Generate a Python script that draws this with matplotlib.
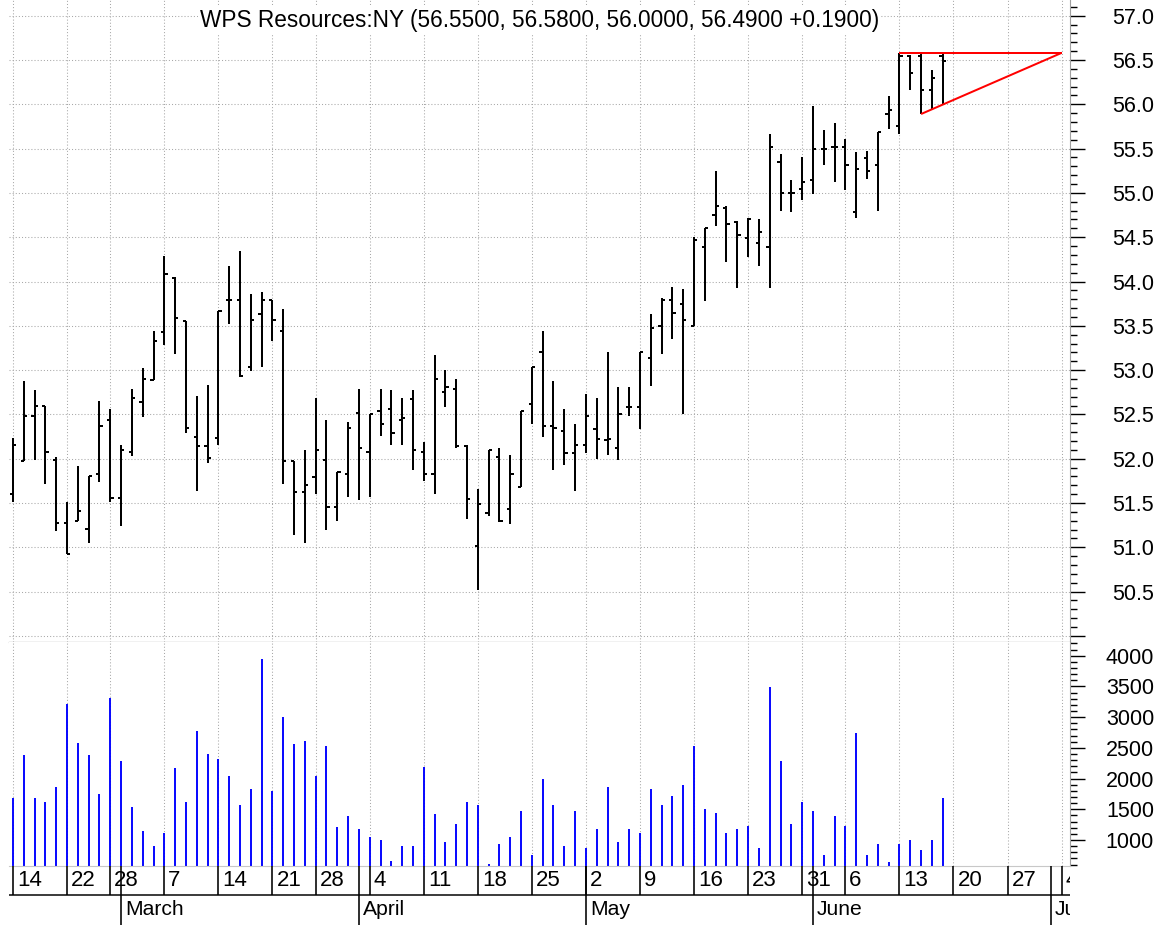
import matplotlib
matplotlib.use("Agg")
import matplotlib.pyplot as plt
from matplotlib.ticker import FixedLocator, MultipleLocator, FuncFormatter
from matplotlib import transforms

plt.rcParams['font.family'] = ['Liberation Sans', 'DejaVu Sans']

# ---------------- data ----------------
ticker = "WPS Resources:NY"
opens = [51.60, 51.97, 52.48, 52.59, 51.98, 51.27, 51.30, 51.21, 51.83, 52.44,
         51.56, 52.08, 52.64, 52.89, 53.43, 54.04, 53.55, 52.25, 52.14, 52.23,
         53.79, 53.79, 53.04, 53.63, 53.79, 53.44, 51.97, 51.62, 51.79, 51.99,
         51.45, 51.83, 52.52, 52.08, 52.54, 52.56, 52.44, 52.67, 52.08, 51.83,
         52.75, 52.79, 52.14, 51.01, 51.39, 52.02, 51.43, 51.68, 52.62, 53.21,
         52.37, 52.31, 52.06, 52.16, 52.33, 52.21, 52.12, 52.58, 52.58, 53.14,
         53.50, 53.79, 53.75, 53.50, 54.39, 54.75, 54.83, 54.67, 54.49, 54.43,
         54.39, 55.35, 55.00, 55.04, 55.14, 55.50, 55.52, 55.52, 54.78, 55.39,
         55.31, 55.89, 55.76, 56.55, 56.55, 56.16, 56.55]
highs = [52.23, 52.88, 52.77, 52.59, 52.02, 51.51, 51.92, 51.81, 52.65, 52.56,
         52.15, 52.79, 53.02, 53.44, 54.29, 54.05, 53.55, 52.71, 52.83, 53.67,
         54.17, 54.34, 53.86, 53.88, 53.79, 53.69, 51.97, 52.10, 52.69, 52.44,
         51.85, 52.42, 52.79, 52.51, 52.79, 52.77, 52.69, 52.77, 52.19, 53.17,
         53.00, 52.90, 52.16, 51.66, 52.10, 52.12, 52.04, 52.54, 53.04, 53.44,
         52.88, 52.56, 52.39, 52.73, 52.69, 53.21, 52.81, 52.81, 53.21, 53.63,
         53.81, 53.94, 53.92, 54.50, 54.60, 55.25, 54.85, 54.68, 54.72, 54.71,
         55.66, 55.44, 55.14, 55.41, 55.98, 55.71, 55.79, 55.61, 55.46, 55.47,
         55.69, 56.09, 56.58, 56.56, 56.58, 56.39, 56.58]
lows = [51.51, 51.97, 51.99, 51.72, 51.18, 50.92, 51.30, 51.05, 51.74, 51.51,
        51.24, 52.03, 52.47, 52.89, 53.28, 53.18, 52.29, 51.64, 51.95, 52.16,
        53.52, 52.92, 52.99, 53.04, 53.33, 51.72, 51.14, 51.05, 51.60, 51.20,
        51.30, 51.57, 51.53, 51.57, 52.26, 52.16, 52.16, 51.87, 51.75, 51.60,
        52.58, 52.12, 51.32, 50.52, 51.35, 51.29, 51.26, 51.68, 52.39, 52.24,
        51.87, 51.93, 51.64, 52.07, 52.00, 52.04, 51.98, 52.48, 52.33, 52.82,
        53.18, 53.35, 52.50, 53.50, 53.78, 54.63, 54.22, 53.93, 54.28, 54.17,
        53.93, 54.80, 54.78, 54.92, 54.99, 55.31, 55.12, 55.03, 54.72, 55.16,
        54.80, 55.72, 55.66, 56.16, 55.89, 55.93, 56.00]
closes = [52.16, 52.48, 52.60, 52.08, 51.27, 50.92, 51.41, 51.81, 52.37, 51.56,
          52.10, 52.69, 52.90, 53.33, 54.09, 53.59, 52.35, 52.14, 52.01, 53.67,
          53.79, 52.93, 53.56, 53.79, 53.56, 51.97, 51.62, 51.70, 52.10, 51.45,
          51.85, 52.35, 52.12, 52.50, 52.39, 52.29, 52.46, 52.10, 51.83, 52.90,
          52.81, 52.14, 51.54, 51.49, 52.10, 51.30, 51.83, 52.54, 53.04, 52.37,
          52.35, 52.06, 52.16, 52.48, 52.22, 52.22, 52.50, 52.58, 53.21, 53.48,
          53.79, 53.65, 53.56, 54.47, 54.60, 54.85, 54.65, 54.52, 54.71, 54.56,
          55.52, 55.00, 55.00, 55.12, 55.50, 55.50, 55.52, 55.31, 55.27, 55.25,
          55.69, 55.93, 56.55, 56.35, 56.16, 56.30, 56.49]
volumes = [1683, 2378, 1683, 1623, 1862, 3219, 2584, 2378, 1743, 3306,
           2286, 1537, 1146, 902, 1114, 2166, 1623, 2769, 2405, 2318,
           2047, 1569, 1835, 3941, 1802, 3007, 2557, 2616, 2047, 2525,
           1206, 1385, 1173, 1053, 995, 663, 902, 902, 2193, 1418,
           967, 1265, 1623, 1564, 604, 940, 1053, 1477, 755, 1988,
           1564, 902, 1477, 874, 1173, 1867, 967, 1173, 1118, 1835,
           1564, 1716, 1895, 2525, 1504, 1444, 1118, 1173, 1232, 874,
           3486, 2286, 1265, 1618, 1472, 755, 1385, 1232, 2737, 755,
           935, 637, 935, 995, 842, 995, 1683]

# trading-day index of week starts and their day labels
week_idx = [0, 5, 9, 14, 19, 24, 28, 33, 38, 43, 48, 53, 58, 63, 68, 73, 77, 82, 87, 92, 97]
week_labels = ["14", "22", "28", "7", "14", "21", "28", "4", "11", "18", "25",
               "2", "9", "16", "23", "31", "6", "13", "20", "27", "4"]
month_idx = [10, 32, 53, 74, 96]
month_labels = ["March", "April", "May", "June", "July"]

# triangle (red) trend lines
trend_top_x = [82, 97]
trend_top_y = [56.58, 56.58]
trend_bot_x = [84, 97]
trend_bot_y = [55.89, 56.58]

price_ticks = [50.0, 50.5, 51.0, 51.5, 52.0, 52.5, 53.0, 53.5, 54.0, 54.5,
               55.0, 55.5, 56.0, 56.5, 57.0]
vol_ticks = [1000, 1500, 2000, 2500, 3000, 3500, 4000]

# ---------------- layout ----------------
W, H = 1165, 925
DPI = 100
fig = plt.figure(figsize=(W / DPI, H / DPI), dpi=DPI)
fig.patch.set_facecolor("white")


def rect(x0, y0, x1, y1):
    return [x0 / W, 1 - y1 / H, (x1 - x0) / W, (y1 - y0) / H]


XL, XR = 9, 1070
ax_p = fig.add_axes(rect(XL, 0, XR, 641.7))
ax_v = fig.add_axes(rect(XL, 641.7, XR, 866))
ax_d = fig.add_axes(rect(XL, 866, XR, 925))

xlim = (-0.37, 97.78)
idx = list(range(len(closes)))

grid_kw = dict(color="#a8a8a8", linestyle=(0, (1, 2)), linewidth=0.75)
tick_font = 15.5
title_font = 16.3
day_font = 16
month_font = 15.2
px = 72.0 / DPI  # points per pixel

for ax in (ax_p, ax_v):
    ax.set_xlim(*xlim)
    ax.set_axisbelow(True)
    ax.set_xticks(week_idx)
    ax.tick_params(axis="x", length=0, labelbottom=False)
    ax.grid(axis="x", **grid_kw)
    ax.yaxis.tick_right()
    ax.tick_params(axis="y", which="major", direction="out", length=15 * px, width=1.0,
                   labelsize=tick_font, pad=(84 - 15) * px, colors="black")
    ax.tick_params(axis="y", which="minor", direction="out", length=7 * px, width=1.0,
                   colors="black")
    for s in ("top", "left"):
        ax.spines[s].set_visible(False)
    ax.spines["right"].set_color("#a0a0a0")
    ax.spines["right"].set_linewidth(0.8)

# ---- price panel ----
ax_p.set_ylim(49.935, 57.177)
ax_p.yaxis.set_major_locator(FixedLocator(price_ticks))
ax_p.yaxis.set_minor_locator(MultipleLocator(0.1))
ax_p.yaxis.set_major_formatter(FuncFormatter(lambda v, p: "" if v < 50.25 else f"{v:.1f}"))
ax_p.grid(axis="y", which="major", **grid_kw)
ax_p.spines["bottom"].set_color("#909090")
ax_p.spines["bottom"].set_linewidth(0.9)

tw = 0.30
ax_p.vlines(idx, lows, highs, color="black", linewidth=2 * px)
ax_p.hlines(opens, [i - tw for i in idx], idx, color="black", linewidth=2 * px)
ax_p.hlines(closes, idx, [i + tw for i in idx], color="black", linewidth=2 * px)

ax_p.plot(trend_top_x, trend_top_y, color="#ff0000", linewidth=2 * px, solid_capstyle="butt")
ax_p.plot(trend_bot_x, trend_bot_y, color="#ff0000", linewidth=2 * px, solid_capstyle="butt")

chg = closes[-1] - closes[-2]
title = (f"{ticker} ({opens[-1]:.4f}, {highs[-1]:.4f}, {lows[-1]:.4f}, "
         f"{closes[-1]:.4f} {chg:+.4f})")
ax_p.text(0.5, 1 - 20 / 641.7, title, transform=ax_p.transAxes, ha="center",
          va="center", fontsize=title_font, color="black",
          bbox=dict(facecolor="white", edgecolor="none", pad=1.5))

# ---- volume panel ----
vmin = 576
ax_v.set_ylim(vmin, 4228)
ax_v.yaxis.set_major_locator(FixedLocator(vol_ticks))
ax_v.yaxis.set_minor_locator(MultipleLocator(100))
ax_v.yaxis.set_major_formatter(FuncFormatter(lambda v, p: f"{v:.0f}"))
ax_v.spines["bottom"].set_color("#c8c8c8")
ax_v.spines["bottom"].set_linewidth(0.8)
ax_v.vlines(idx, vmin, volumes, color="#0000ff", linewidth=1.9 * px)

for ax in (ax_p, ax_v):
    for lab in ax.get_yticklabels():
        lab.set_horizontalalignment("right")

# ---- date axis ----
ax_d.set_xlim(*xlim)
ax_d.set_ylim(0, 1)
ax_d.axis("off")
row = (925 - 895) / 59.0
ax_d.axhline(row, color="black", linewidth=1.5 * px)
ax_d.vlines(week_idx, row, 1.0, color="black", linewidth=1.6 * px)
ax_d.vlines(month_idx, 0.0, 1.0, color="black", linewidth=1.6 * px)
off = transforms.offset_copy(ax_d.transData, fig=fig, x=4, y=0, units="dots")
for i, lab in zip(week_idx, week_labels):
    ax_d.text(i, (925 - 880.5) / 59.0, lab, transform=off, ha="left", va="center",
              fontsize=day_font, clip_on=True)
for i, lab in zip(month_idx, month_labels):
    ax_d.text(i, (925 - 909.5) / 59.0, lab, transform=off, ha="left", va="center",
              fontsize=month_font, clip_on=True)

fig.savefig("out.png", dpi=DPI, facecolor="white")
